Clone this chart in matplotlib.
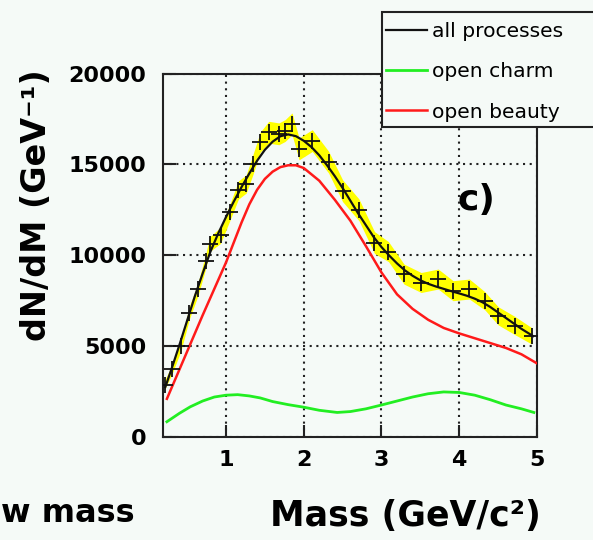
import matplotlib
matplotlib.use("Agg")
import numpy as np
from matplotlib import pyplot as plt
from matplotlib.lines import Line2D
from matplotlib.patches import Rectangle

# data points (mass, counts, band half-width)
data_x = [0.21, 0.31, 0.42, 0.53, 0.64, 0.74, 0.79, 0.93, 1.05, 1.16, 1.26, 1.35, 1.44,
          1.55, 1.68, 1.76, 1.85, 1.94, 2.11, 2.32, 2.50, 2.71, 2.91, 3.09, 3.29, 3.51,
          3.73, 3.92, 4.13, 4.33, 4.50, 4.72, 4.93]
data_y = [2850, 3760, 5030, 6850, 8130, 9680, 10600, 11100, 12360, 13590, 13920, 15030, 16220,
          16770, 16680, 16860, 17230, 15850, 16310, 15120, 13550, 12500, 10700, 10200, 8960, 8500,
          8690, 8050, 8140, 7490, 6670, 6120, 5570]
data_err = [250, 250, 300, 350, 350, 400, 400, 450, 450, 500, 500, 550, 550,
            600, 600, 600, 600, 600, 600, 600, 600, 600, 600, 550, 550, 550,
            550, 550, 550, 500, 500, 500, 450]

# all processes
all_x = [0.22, 0.3, 0.4, 0.5, 0.6, 0.7, 0.8, 0.9, 1.0, 1.1, 1.2, 1.3, 1.4, 1.5, 1.6, 1.7,
         1.8, 1.9, 2.0, 2.1, 2.2, 2.3, 2.4, 2.5, 2.6, 2.7, 2.8, 2.9, 3.0, 3.1, 3.2, 3.3,
         3.4, 3.5, 3.6, 3.7, 3.8, 3.9, 4.0, 4.1, 4.2, 4.3, 4.4, 4.5, 4.6, 4.7, 4.8, 4.95]
all_y = [2750, 3750, 5050, 6400, 7750, 9000, 10200, 11200, 12100, 12950, 13750, 14500, 15200,
         15800, 16250, 16550, 16650, 16550, 16300, 15950, 15500, 14950, 14350, 13700, 13000,
         12300, 11650, 11000, 10450, 9980, 9550, 9170, 8870, 8620, 8430, 8280, 8150, 8020,
         7900, 7770, 7610, 7410, 7150, 6850, 6550, 6250, 5950, 5550]

# open charm
charm_x = [0.24, 0.4, 0.54, 0.7, 0.85, 1.0, 1.15, 1.3, 1.44, 1.6, 1.8, 2.0, 2.2, 2.43, 2.6,
           2.8, 3.0, 3.2, 3.4, 3.6, 3.8, 4.0, 4.2, 4.4, 4.6, 4.8, 4.96]
charm_y = [840, 1300, 1660, 1980, 2200, 2300, 2330, 2260, 2150, 1950, 1780, 1640, 1470, 1350,
           1400, 1550, 1760, 1980, 2200, 2380, 2480, 2450, 2300, 2050, 1760, 1550, 1350]

# open beauty
beauty_x = [0.24, 0.4, 0.55, 0.7, 0.85, 1.0, 1.1, 1.2, 1.3, 1.4, 1.5, 1.6, 1.7, 1.8, 1.9,
            2.0, 2.2, 2.4, 2.6, 2.8, 3.0, 3.2, 3.4, 3.6, 3.8, 4.0, 4.3, 4.6, 4.8, 5.0]
beauty_y = [2100, 3700, 5200, 6700, 8150, 9600, 10700, 11800, 12800, 13600, 14200, 14600,
            14850, 14950, 14950, 14800, 14100, 13050, 11900, 10500, 9050, 7850, 7050, 6450,
            6000, 5700, 5300, 4900, 4550, 4050]

x_ticks = [1, 2, 3, 4, 5]
y_ticks = [0, 5000, 10000, 15000, 20000]

bg = '#f5faf7'
W, H = 593, 540

plt.rcParams['font.family'] = ['DejaVu Sans']

fig = plt.figure(figsize=(W / 100, H / 100), dpi=100, facecolor=bg)
ax = fig.add_axes([163 / W, 1 - 437 / H, 374 / W, 363.5 / H], facecolor=bg)

ax.fill_between(data_x, np.array(data_y) - np.array(data_err), np.array(data_y) + np.array(data_err),
                color='#ffff00', linewidth=0, zorder=2)
ax.plot(charm_x, charm_y, color='#22ee22', linewidth=2, zorder=3)
ax.plot(beauty_x, beauty_y, color='#ff1a1a', linewidth=1.8, zorder=3)
ax.plot(data_x, data_y, linestyle='none', marker='+', markersize=11, markeredgewidth=1.3,
        color='#111111', zorder=4)
ax.plot(all_x, all_y, color='#111111', linewidth=1.6, zorder=5)

ax.set_xlim(0.19, 5.0)
ax.set_ylim(0, 20000)
ax.set_xticks(x_ticks)
ax.set_yticks(y_ticks)
ax.set_xticklabels([str(t) for t in x_ticks], fontsize=16, fontweight='bold')
ax.set_yticklabels([str(t) for t in y_ticks], fontsize=16, fontweight='bold')
ax.tick_params(direction='in', length=9, width=1.5, color='#222222')
ax.tick_params(axis='x', pad=9)
ax.tick_params(axis='y', pad=12)
ax.grid(True, color='#222222', linestyle=(0, (1, 2.2)), linewidth=1.5)
ax.set_axisbelow(True)
for s in ax.spines.values():
    s.set_linewidth(1.5)
    s.set_color('#222222')

fig.text(476 / W, 1 - 200 / H, 'c)', fontsize=26, fontweight='bold', ha='center', va='center')

fig.text(405 / W, 1 - 516 / H, 'Mass (GeV/c\u00b2)', fontsize=25, fontweight='bold',
         ha='center', va='center')
fig.text(37 / W, 1 - 205 / H, 'dN/dM (GeV\u207b\u00b9)', fontsize=24, fontweight='bold',
         ha='center', va='center', rotation=90)
fig.text(135 / W, 1 - 514 / H, 'w mass', fontsize=23, fontweight='bold', ha='right', va='center')

# legend box running off the right edge
fig.patches.append(Rectangle((382 / W, 1 - 127 / H), 230 / W, 115 / H, transform=fig.transFigure,
                             facecolor=bg, edgecolor='#222222', linewidth=1.5, zorder=4))
handles = [Line2D([], [], color='#111111', linewidth=1.6),
           Line2D([], [], color='#22ee22', linewidth=2),
           Line2D([], [], color='#ff1a1a', linewidth=1.8)]
labels = ['all processes', 'open charm', 'open beauty']
leg = fig.legend(handles, labels, loc='upper left', bbox_to_anchor=(386 / W, 1 - 22 / H),
                 frameon=False, handlelength=2.0, handletextpad=0.25, borderpad=0,
                 borderaxespad=0, labelspacing=1.05, prop={'size': 14.6})
leg.set_zorder(5)

fig.savefig('out.png', dpi=100, facecolor=bg)
